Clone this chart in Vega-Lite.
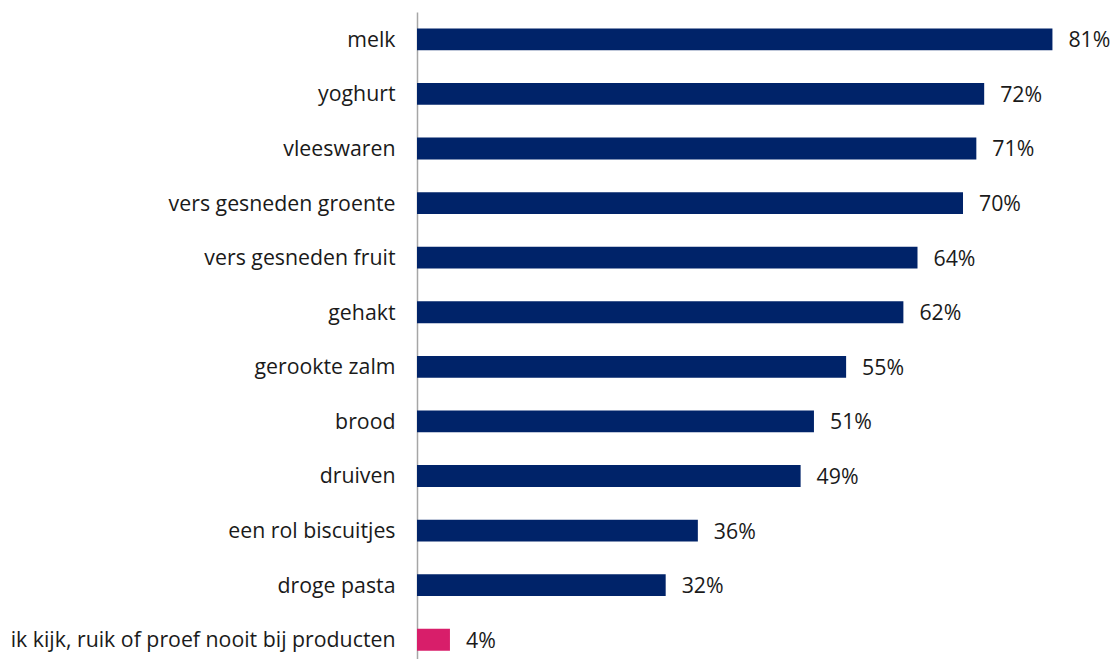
{
  "$schema": "https://vega.github.io/schema/vega-lite/v6.json",
  "width": 688,
  "height": 655,
  "autosize": {"type": "none"},
  "padding": {"left": 417, "top": 12, "right": 5, "bottom": 0},
  "background": "white",
  "config": {"view": {"stroke": null}, "font": "Open Sans"},
  "data": {"values": [
    {"item": "melk", "value": 0.810, "group": "a"},
    {"item": "yoghurt", "value": 0.723, "group": "a"},
    {"item": "vleeswaren", "value": 0.713, "group": "a"},
    {"item": "vers gesneden groente", "value": 0.696, "group": "a"},
    {"item": "vers gesneden fruit", "value": 0.638, "group": "a"},
    {"item": "gehakt", "value": 0.620, "group": "a"},
    {"item": "gerookte zalm", "value": 0.547, "group": "a"},
    {"item": "brood", "value": 0.506, "group": "a"},
    {"item": "druiven", "value": 0.489, "group": "a"},
    {"item": "een rol biscuitjes", "value": 0.358, "group": "a"},
    {"item": "droge pasta", "value": 0.317, "group": "a"},
    {"item": "ik kijk, ruik of proef nooit bij producten", "value": 0.042, "group": "b"}
  ]},
  "encoding": {
    "y": {"field": "item", "type": "nominal", "sort": null,
      "scale": {"paddingInner": 0.6, "paddingOuter": 0.3},
      "axis": {"title": null, "ticks": false, "labelFontSize": 21.3, "labelColor": "#1a1a1a", "labelPadding": 22, "labelOffset": 1.5, "domainColor": "#a6a6a6", "domainWidth": 1.5, "labelLimit": 600, "labelFont": "Open Sans"}},
    "x": {"field": "value", "type": "quantitative", "scale": {"domain": [0, 0.877], "nice": false}, "axis": null}
  },
  "layer": [
    {"mark": {"type": "bar"},
     "encoding": {"color": {"field": "group", "type": "nominal", "scale": {"domain": ["a", "b"], "range": ["#002369", "#d81e6a"]}, "legend": null}}},
    {"mark": {"type": "text", "align": "left", "dx": 16, "dy": 2, "fontSize": 21.3, "color": "#1a1a1a", "font": "Open Sans"},
     "encoding": {"text": {"field": "value", "type": "quantitative", "format": ".0%"}}}
  ]
}
